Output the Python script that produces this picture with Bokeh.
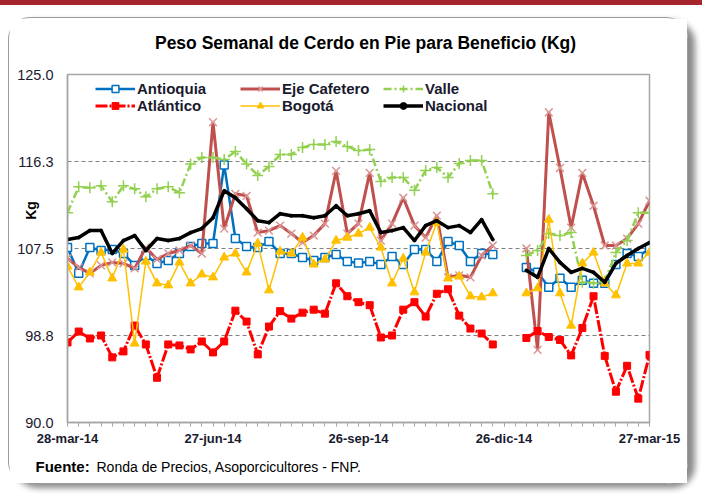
import numpy as np
from bokeh.plotting import figure
from bokeh.models import (Range1d, FixedTicker, PrintfTickFormatter, Legend,
                          LegendItem, Label, InlineStyleSheet)
from bokeh.embed import file_html
from bokeh.resources import INLINE

nan = float("nan")

# ---- data (weekly, 28-mar-14 .. 27-mar-15; two missing weeks) ----
weeks = list(range(53))
x_tick_pos = [0, 13, 26, 39, 52]
x_tick_labels = ["28-mar-14", "27-jun-14", "26-sep-14", "26-dic-14", "27-mar-15"]
y_ticks = [90.0, 98.75, 107.5, 116.25, 125.0]
grid_ticks = [98.75, 107.5, 116.25]

antioquia = [107.6, 105.0, 107.6, 107.3, 107.4, 107.0, 105.8, 106.8, 106.0, 106.3,
             107.0, 107.7, 108.0, 108.0, 115.9, 108.5, 107.7, 107.6, 108.2, 107.0,
             107.0, 106.6, 106.3, 106.6, 106.9, 106.2, 106.05, 106.2, 105.9, 106.7,
             105.9, 107.4, 107.4, 106.2, 108.2, 107.8, 106.2, 107.0, 106.9, nan,
             nan, 105.6, 105.1, 103.6, 104.5, 103.6, 104.3, 104.0, 104.0, 105.9,
             107.0, 106.7, 107.5]
eje_cafetero = [106.5, 105.6, 105.0, 105.8, 106.1, 106.0, 105.5, 107.6, 106.4, 107.0,
                107.3, 107.8, 107.0, 120.2, 109.5, 113.0, 112.8, 109.1, 109.3, 109.8,
                109.0, 108.1, 108.8, 110.0, 115.3, 109.0, 110.0, 115.1, 108.3, 110.0,
                112.6, 109.8, 108.6, 110.8, 104.6, 104.8, 104.6, 106.8, 107.8, nan,
                nan, 107.5, 97.3, 121.2, 115.6, 109.6, 115.1, 111.8, 107.8, 107.8,
                108.5, 110.0, 112.3]
valle = [111.1, 113.7, 113.6, 113.8, 112.2, 113.8, 113.5, 112.7, 113.5, 113.7,
         113.1, 116.0, 116.65, 116.65, 116.45, 117.25, 116.0, 114.85, 115.75, 116.95,
         116.95, 117.65, 117.95, 117.95, 118.25, 117.75, 117.35, 117.45, 114.25, 114.65,
         114.65, 113.35, 115.35, 115.65, 114.65, 116.05, 116.35, 116.35, 113.0, nan,
         nan, 106.8, 107.3, 109.0, 108.8, 109.1, 104.1, 104.0, 104.2, 107.1,
         108.3, 111.1, 111.1]
atlantico = [98.05, 99.15, 98.45, 98.75, 96.55, 97.15, 99.75, 97.85, 94.5, 97.85,
             97.75, 97.35, 98.15, 97.05, 98.15, 101.25, 100.15, 96.85, 99.65, 101.2,
             100.45, 101.05, 101.35, 100.95, 104.0, 102.7, 102.1, 101.8, 98.55, 98.75,
             101.35, 102.1, 100.65, 102.95, 103.4, 100.75, 99.45, 98.95, 97.85, nan,
             nan, 98.5, 99.2, 98.6, 98.3, 96.75, 99.5, 102.7, 96.7, 93.1,
             95.7, 92.4, 96.8]
bogota = [105.7, 103.6, 105.1, 107.1, 104.5, 107.4, 97.95, 106.2, 104.0, 103.8,
          106.1, 104.0, 104.9, 104.6, 106.6, 107.0, 105.1, 108.0, 103.3, 107.2,
          107.0, 108.6, 105.9, 106.4, 108.3, 108.6, 109.0, 109.6, 107.6, 104.0,
          106.5, 103.1, 107.1, 110.1, 104.5, 104.7, 102.7, 102.6, 103.0, nan,
          nan, 103.0, 103.5, 110.4, 103.0, 99.75, 106.0, 107.1, 104.0, 102.8,
          106.0, 106.0, 107.1]
nacional = [108.4, 108.6, 109.3, 109.3, 107.0, 108.3, 108.8, 107.3, 108.5, 108.3,
            108.5, 109.1, 109.5, 110.6, 113.3, 112.6, 111.5, 110.3, 110.1, 111.0,
            110.8, 110.8, 110.6, 110.8, 111.8, 110.8, 111.0, 111.3, 109.1, 109.3,
            109.6, 108.3, 109.8, 110.3, 109.6, 109.8, 109.1, 110.4, 108.4, nan,
            nan, 105.3, 104.6, 107.5, 106.1, 105.1, 105.5, 105.1, 104.1, 106.0,
            106.8, 107.5, 108.1]

# ---- layout ----
W, H = 680, 467
FL, FT, FW, FH = 58, 56, 582, 348
TXT = "#1a1a2e"
FONT = "Liberation Sans"

p = figure(width=W, height=H, output_backend="svg", toolbar_location=None,
           x_range=Range1d(0, 52), y_range=Range1d(90, 125),
           min_border_left=FL, min_border_right=W - FL - FW,
           min_border_top=FT, min_border_bottom=H - FT - FH,
           background_fill_color="white", border_fill_color="white",
           title=None)
p.styles = {"position": "relative", "top": "17px", "left": "8px",
            "border": "1px solid #9A9A9A", "border-radius": "22px",
            "box-shadow": "7px 4px 6px #8A8A8A"}
p.stylesheets = [InlineStyleSheet(css=":host::before { content: ''; position: fixed; "
                                      "left: 0; top: 0; width: 100vw; height: 5px; "
                                      "background: #A4262C; z-index: 5; }")]

p.outline_line_color = "#A6A6A6"
p.outline_line_width = 1.5

xa = p.xaxis[0]
xa.ticker = FixedTicker(ticks=x_tick_pos, minor_ticks=weeks)
xa.major_label_overrides = {t: s for t, s in zip(x_tick_pos, x_tick_labels)}
xa.axis_line_color = "#A6A6A6"
xa.axis_line_width = 1.5
xa.major_tick_line_color = "#A6A6A6"
xa.minor_tick_line_color = "#A6A6A6"
xa.major_tick_in = 0
xa.major_tick_out = 4
xa.minor_tick_in = 0
xa.minor_tick_out = 4
xa.major_label_standoff = 4
xa.major_label_text_font = FONT
xa.major_label_text_font_style = "bold"
xa.major_label_text_font_size = "13px"
xa.major_label_text_color = TXT

ya = p.yaxis[0]
ya.ticker = FixedTicker(ticks=y_ticks)
ya.formatter = PrintfTickFormatter(format="%.1f")
ya.axis_line_color = "#A6A6A6"
ya.axis_line_width = 1.5
ya.major_tick_in = 0
ya.major_tick_out = 0
ya.minor_tick_line_color = None
ya.major_label_standoff = 14
ya.major_label_text_font = FONT
ya.major_label_text_font_size = "14.5px"
ya.major_label_text_color = TXT

p.xgrid.visible = False
p.ygrid.ticker = FixedTicker(ticks=grid_ticks)
p.ygrid.grid_line_color = "#808080"
p.ygrid.grid_line_dash = "4 3"
p.ygrid.grid_line_width = 1

x = np.array(weeks, dtype=float)

def arr(v):
    return np.array(v, dtype=float)

r_ant_l = p.line(x, arr(antioquia), line_color="#0070C0", line_width=2.5)
r_ant_m = p.scatter(x, arr(antioquia), marker="square", size=8, fill_color="white",
                    line_color="#0070C0", line_width=1.5)
r_eje_l = p.line(x, arr(eje_cafetero), line_color="#C0504D", line_width=3)
r_eje_m = p.scatter(x, arr(eje_cafetero), marker="x", size=11, line_color="#D99694",
                    line_width=1.5)
r_val_l = p.line(x, arr(valle), line_color="#92D050", line_width=2.5, line_dash="8 3 2 3")
r_val_m = p.scatter(x, arr(valle), marker="cross", size=11, line_color="#92D050",
                    line_width=1.5)
r_atl_l = p.line(x, arr(atlantico), line_color="#FF0000", line_width=3, line_dash="12 2 2 2")
r_atl_m = p.scatter(x, arr(atlantico), marker="square", size=7, fill_color="#FF0000",
                    line_color="#FF0000")
r_bog_l = p.line(x, arr(bogota), line_color="#FFC000", line_width=1.5)
r_bog_m = p.scatter(x, arr(bogota), marker="triangle", size=9, fill_color="#FFC000",
                    line_color="#FFC000")
r_nac_l = p.line(x, arr(nacional), line_color="black", line_width=3.5)
r_nac_m = p.scatter(x, arr(nacional), marker="circle", size=3, fill_color="black",
                    line_color="black")

cols = [
    (28, [("Antioquia", [r_ant_l, r_ant_m]), ("Atlántico", [r_atl_l, r_atl_m])]),
    (173, [("Eje Cafetero", [r_eje_l, r_eje_m]), ("Bogotá", [r_bog_l, r_bog_m])]),
    (316, [("Valle", [r_val_l, r_val_m]), ("Nacional", [r_nac_l, r_nac_m])]),
]
for cx, items in cols:
    leg = Legend(items=[LegendItem(label=lab, renderers=rs) for lab, rs in items],
                 location=(cx, 308.5), orientation="vertical",
                 border_line_color=None, background_fill_alpha=0,
                 padding=0, margin=0, spacing=0,
                 glyph_width=40, glyph_height=17, label_height=17,
                 label_standoff=2, label_text_font=FONT, label_text_font_style="bold",
                 label_text_font_size="15px", label_text_color=TXT)
    p.add_layout(leg)

# title (side panel above the frame)
title = Label(x=298, y=32, x_units="screen", y_units="screen",
              text="Peso Semanal de Cerdo en Pie para Beneficio (Kg)",
              text_align="center", text_baseline="middle", text_font=FONT,
              text_font_size="17.5px", text_font_style="bold", text_color="black")
p.add_layout(title, "above")

# y axis title, drawn from the right side panel so it does not widen the left border
kg = Label(x=-619, y=212, x_units="screen", y_units="screen", text="Kg",
           angle=np.pi / 2, text_align="center", text_baseline="middle",
           text_font=FONT, text_font_size="14px", text_font_style="bold",
           text_color="black")
p.add_layout(kg, "right")

f1 = Label(x=-32, y=-1, x_units="screen", y_units="screen", text="Fuente:",
           text_align="left", text_baseline="middle", text_font=FONT,
           text_font_size="15px", text_font_style="bold", text_color="black")
f2 = Label(x=29, y=15, x_units="screen", y_units="screen",
           text="Ronda de Precios, Asoporcicultores  - FNP.",
           text_align="left", text_baseline="middle", text_font=FONT,
           text_font_size="14px", text_color="black")
p.add_layout(f1, "below")
p.add_layout(f2, "below")

open("out.html", "w").write(file_html(p, INLINE))
